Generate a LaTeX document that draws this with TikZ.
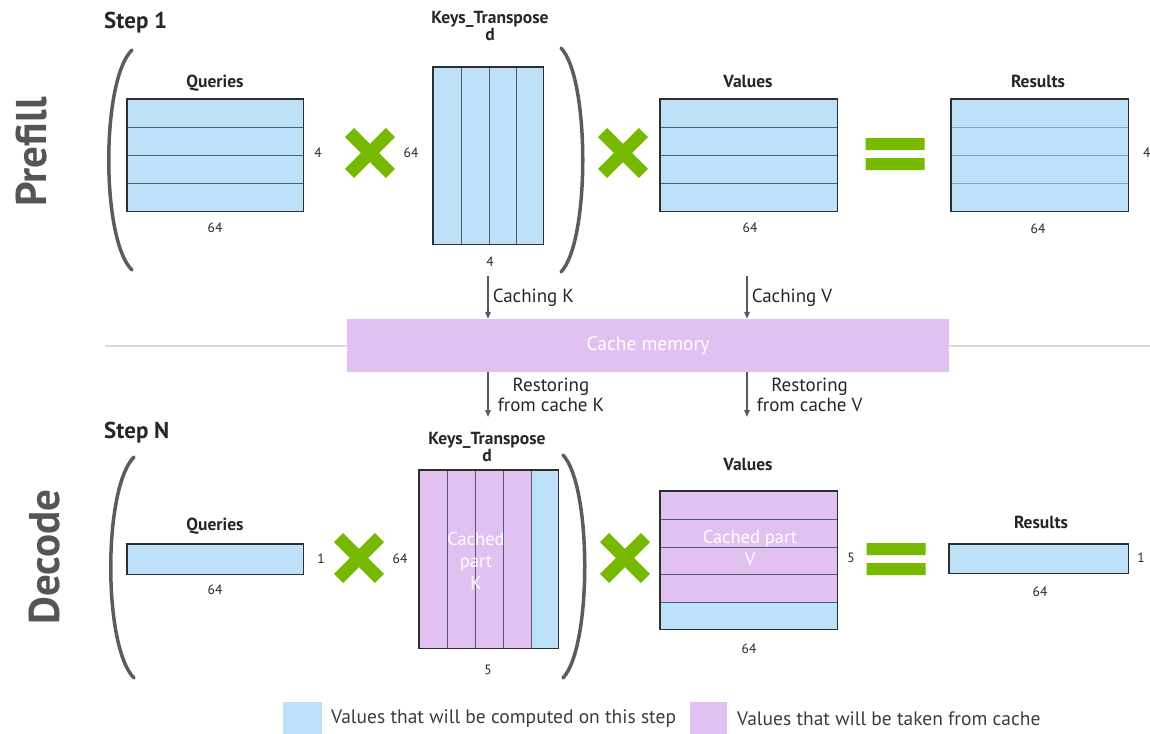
\documentclass[tikz,border=0pt]{standalone}
\usepackage{fontspec}
\setmainfont{PT Sans}
\usetikzlibrary{arrows.meta}

\definecolor{calcblue}{HTML}{BEE1FA}
\definecolor{cachepurple}{HTML}{E0C1F2}
\definecolor{nvgreen}{HTML}{76B900}
\definecolor{framegrey}{HTML}{2E2E2E}
\definecolor{rowline}{HTML}{4E5D6C}
\definecolor{softline}{HTML}{8AA3B8}
\definecolor{parengrey}{HTML}{5C5C5C}
\definecolor{sepgrey}{HTML}{DADADA}
\definecolor{arrowgrey}{HTML}{5A5A5A}
\definecolor{textgrey}{HTML}{262626}
\definecolor{sidegrey}{HTML}{555555}

\tikzset{
    mulsign/.pic={\draw[nvgreen, line width=13pt] (-20.4,-20.4) -- (20.4,20.4) (-20.4,20.4) -- (20.4,-20.4);},
    eqsign/.pic={\fill[nvgreen] (-29.5,-16) rectangle (29.5,-4) (-29.5,4) rectangle (29.5,16);}
}

\begin{document}
\begin{tikzpicture}[x=1pt, y=-1pt, >={Triangle[length=7pt,width=5.5pt]}]
        \tikzstyle{every node} = [inner sep=1pt, text=textgrey]
        \tikzstyle{mat} = [rectangle, fill=calcblue, anchor=north west]
        \tikzstyle{title} = [font=\bfseries\fontsize{17.5}{16}\selectfont, align=center]
        \tikzstyle{dim} = [font=\fontsize{13.5}{15}\selectfont]
        \tikzstyle{stepname} = [font=\bfseries\fontsize{23}{26}\selectfont, anchor=west]
        \tikzstyle{side} = [font=\bfseries\fontsize{43}{46}\selectfont, text=sidegrey, rotate=90]
        \tikzstyle{cached} = [font=\fontsize{18.5}{22}\selectfont, text=white, align=center]
        \tikzstyle{flow} = [draw=arrowgrey, line width=1.5pt, ->]
        \tikzstyle{flowlabel} = [font=\fontsize{19}{20}\selectfont, align=center, right=3pt]
        \tikzstyle{bracket} = [draw=parengrey, line width=3.5pt, line cap=round]
        \tikzstyle{legend} = [font=\fontsize{19.5}{22}\selectfont, anchor=west, text=textgrey!90]
        \useasboundingbox (0,0) rectangle (1150,733);

        % prefill
        \node[stepname] (step1) at (103,23) {Step 1};
        \node[side] (prefill) at (32,152) {Prefill};
        \node[mat, minimum width=176, minimum height=112] (q1) at (127,99) {};
        \node[mat, minimum width=110, minimum height=177] (k1) at (433,67) {};
        \node[mat, minimum width=177, minimum height=112] (v1) at (660,99) {};
        \node[mat, minimum width=177, minimum height=112] (r1) at (951,99) {};
        \foreach \y in {127,155,183} {
            \draw[rowline, line width=1pt] (q1.west |- 0,\y) -- (q1.east |- 0,\y);
            \draw[rowline, line width=1pt] (v1.west |- 0,\y) -- (v1.east |- 0,\y);
            \draw[softline, line width=0.8pt] (r1.west |- 0,\y) -- (r1.east |- 0,\y);
        }
        \foreach \x in {461,489,516}
            \draw[rowline, line width=1pt] (k1.north -| \x,0) -- (k1.south -| \x,0);
        \node[title] (q1t) at (215,83) {Queries};
        \node[dim] (q1w) at (215,228) {64};
        \node[dim] (q1h) at (318,153) {4};
        \pic at (370,153) {mulsign};
        \node[dim] (k1h) at (411,153) {64};
        \node[title] (k1t) at (490,26) {Keys\_Transpose\\d};
        \node[dim] (k1w) at (490,262) {4};
        \pic at (623,153) {mulsign};
        \node[title] (v1t) at (748,81) {Values};
        \node[dim] (v1w) at (750,228) {64};
        \pic at (895,154) {eqsign};
        \node[title] (r1t) at (1038,81) {Results};
        \node[dim] (r1w) at (1038,229) {64};
        \node[dim, anchor=west] (r1h) at (1142,153) {4};
        \draw[bracket] (132,50) .. controls (101,80) and (101,240) .. (132,270);
        \draw[bracket] (561,48) .. controls (590,78) and (590,242) .. (561,272);

        % cache
        \draw[sepgrey, line width=2.5pt] (105,346) -- (1150,346);
        \node[fill=cachepurple, minimum width=602, minimum height=53, text=white, font=\fontsize{19.5}{22}\selectfont] (cache) at (648,345.5) {Cache memory};
        \coordinate (ck) at (488,276);
        \coordinate (cv) at (747,276);
        \coordinate (rk) at (488,417);
        \coordinate (rv) at (747,417);
        \draw[flow] (ck) -- (ck |- cache.north) node[flowlabel, midway] {Caching K};
        \draw[flow] (cv) -- (cv |- cache.north) node[flowlabel, midway] {Caching V};
        \draw[flow] (rk |- cache.south) -- (rk) node[flowlabel, midway, right=5pt] {Restoring\\from cache K};
        \draw[flow] (rv |- cache.south) -- (rv) node[flowlabel, midway, right=5pt] {Restoring\\from cache V};

        % decode
        \node[stepname] (stepN) at (103,433) {Step N};
        \node[side] (decode) at (45,557) {Decode};
        \node[mat, minimum width=176, minimum height=30] (q2) at (127,544) {};
        \node[mat, fill=cachepurple, minimum width=139, minimum height=178] (k2) at (419,470) {};
        \fill[calcblue] (531,470) rectangle (558,648);
        \foreach \x in {447,475,503,531}
            \draw[rowline, line width=1pt] (k2.north -| \x,0) -- (k2.south -| \x,0);
        \node[mat, fill=cachepurple, minimum width=177, minimum height=138] (v2) at (660,491) {};
        \fill[calcblue] (660,602) rectangle (837,629);
        \foreach \y in {519,547,574,602}
            \draw[rowline, line width=1pt] (v2.west |- 0,\y) -- (v2.east |- 0,\y);
        \node[mat, minimum width=179, minimum height=29] (r2) at (949,544) {};
        \node[title] (q2t) at (215,526) {Queries};
        \node[dim] (q2w) at (215,590) {64};
        \node[dim] (q2h) at (321,559) {1};
        \pic at (359,558) {mulsign};
        \node[dim] (k2h) at (400,559) {64};
        \node[title] (k2t) at (487,447) {Keys\_Transpose\\d};
        \node[cached] (k2c) at (476,561) {Cached\\part\\K};
        \node[dim] (k2w) at (488,670) {5};
        \pic at (625,558) {mulsign};
        \node[title] (v2t) at (748,464) {Values};
        \node[cached] (v2c) at (750,548) {Cached part\\V};
        \node[dim] (v2w) at (749,649) {64};
        \node[dim] (v2h) at (851,558) {5};
        \pic at (896,559) {eqsign};
        \node[title] (r2t) at (1041,522) {Results};
        \node[dim] (r2w) at (1040,592) {64};
        \node[dim] (r2h) at (1141,558) {1};
        \draw[bracket] (134,457) .. controls (103,488) and (103,647) .. (134,678);
        \draw[bracket] (563,455) .. controls (592,486) and (592,647) .. (563,678);

        \foreach \m in {q1,k1,v1,r1,q2,k2,v2,r2}
            \draw[framegrey, line width=1.6pt] (\m.north west) rectangle (\m.south east);

        % legend
        \node[fill=calcblue, minimum width=39, minimum height=34, anchor=north west] (keycalc) at (283,702) {};
        \node[legend] (keycalct) at (330,719) {Values that will be computed on this step};
        \node[fill=cachepurple, minimum width=37, minimum height=34, anchor=north west] (keycache) at (690,702) {};
        \node[legend] (keycachet) at (736,719) {Values that will be taken from cache};
\end{tikzpicture}
\end{document}
